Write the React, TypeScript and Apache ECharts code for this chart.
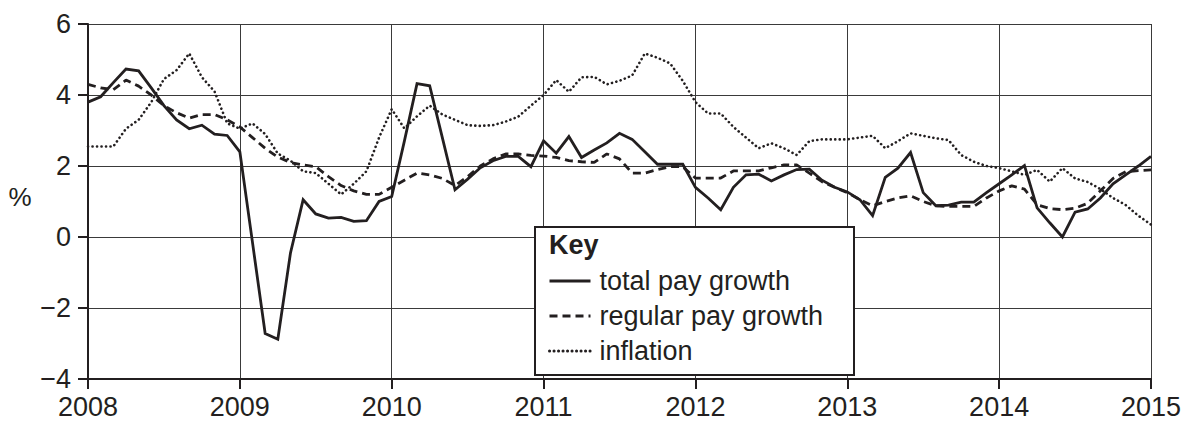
import React, { useEffect, useRef } from "react";
import * as echarts from "echarts";

const START_YEAR = 2008;
const yTicks = [-4, -2, 0, 2, 4, 6];
const xYears = [2008, 2009, 2010, 2011, 2012, 2013, 2014, 2015];

const totalPay = [
  3.8, 3.95, 4.35, 4.73, 4.68, 4.2, 3.7, 3.3, 3.05, 3.15, 2.9, 2.86,
  2.4, -0.16, -2.72, -2.88, -0.45, 1.05, 0.65, 0.53, 0.55, 0.44, 0.46, 1.0,
  1.14, 2.7, 4.32, 4.26, 2.8, 1.33, 1.63, 1.95, 2.15, 2.27, 2.27, 1.98,
  2.71, 2.36, 2.83, 2.24, 2.45, 2.65, 2.92, 2.75, 2.4, 2.05, 2.05, 2.05,
  1.4, 1.1, 0.77, 1.4, 1.75, 1.77, 1.58, 1.75, 1.9, 1.91, 1.6, 1.4,
  1.27, 1.05, 0.6, 1.68, 1.94, 2.38, 1.25, 0.88, 0.9, 0.98, 0.98, 1.25,
  1.5, 1.75, 2.01, 0.82, 0.4, 0.0, 0.7, 0.79, 1.1, 1.5, 1.75, 2.0,
  2.27,
];

const regularPay = [
  4.3, 4.2, 4.15, 4.42, 4.25, 4.0, 3.7, 3.5, 3.35, 3.45, 3.45, 3.3,
  3.1, 2.8, 2.5, 2.25, 2.1, 2.03, 1.98, 1.7, 1.45, 1.3, 1.2, 1.2,
  1.4, 1.6, 1.8, 1.75, 1.65, 1.45, 1.7, 2.0, 2.2, 2.34, 2.34, 2.3,
  2.28, 2.24, 2.15, 2.12, 2.1, 2.34, 2.2, 1.8, 1.8, 1.9, 1.98, 1.98,
  1.66, 1.66, 1.66, 1.86, 1.86, 1.86, 1.95, 2.03, 2.03, 1.8, 1.56, 1.4,
  1.25, 1.05, 0.88, 1.0, 1.1, 1.16, 1.0, 0.88, 0.86, 0.86, 0.86, 1.1,
  1.3, 1.44, 1.35, 0.91, 0.8, 0.77, 0.81, 0.95, 1.3, 1.65, 1.84, 1.87,
  1.89,
];

const inflation = [
  2.55, 2.55, 2.55, 3.05, 3.3, 3.8, 4.45, 4.7, 5.17, 4.5, 4.1, 3.2,
  3.05, 3.2, 2.9, 2.35, 2.15, 1.85, 1.8, 1.5, 1.2, 1.5, 1.85, 2.8,
  3.6, 3.06, 3.4, 3.7, 3.45, 3.3, 3.15, 3.13, 3.15, 3.25, 3.39, 3.7,
  4.0, 4.42, 4.09, 4.5, 4.51, 4.3, 4.4, 4.55, 5.17, 5.05, 4.89, 4.4,
  3.8, 3.48, 3.48, 3.1, 2.8, 2.5, 2.64, 2.5, 2.31, 2.7, 2.75, 2.75,
  2.75, 2.8, 2.85, 2.5, 2.7, 2.92, 2.85, 2.78, 2.73, 2.31, 2.12, 2.0,
  1.94, 1.85, 1.75, 1.89, 1.56, 1.94, 1.65, 1.55, 1.35, 1.1, 0.9, 0.6,
  0.35,
];

const seriesNames = ["total pay growth", "regular pay growth", "inflation"];

const toPoints = (vals: number[]) =>
  vals.map((v, i) => [START_YEAR + i / 12, v]);

const INK = "#231f20";
const FONT = "Liberation Sans, Arial, Helvetica, sans-serif";

export default function App() {
  const ref = useRef<HTMLDivElement>(null);

  useEffect(() => {
    document.body.style.margin = "0";
    if (!ref.current) return;
    const chart = echarts.init(ref.current, undefined, { renderer: "svg" });
    chart.setOption({
      animation: false,
      backgroundColor: "#ffffff",
      textStyle: { fontFamily: FONT, color: INK },
      grid: {
        left: 88,
        right: 42,
        top: 24,
        bottom: 42,
        containLabel: false,
        outerBoundsMode: "none",
      },
      xAxis: {
        type: "value",
        min: xYears[0],
        max: xYears[xYears.length - 1],
        interval: 1,
        axisLine: { show: true, onZero: false, lineStyle: { color: INK, width: 2 } },
        axisTick: { show: true, length: 10, lineStyle: { color: INK, width: 2 } },
        axisLabel: {
          fontSize: 27,
          lineHeight: 24,
          color: INK,
          fontFamily: FONT,
          margin: 16,
          formatter: (v: number) => String(v),
        },
        splitLine: { show: true, lineStyle: { color: "#3a3a3a", width: 1 } },
      },
      yAxis: {
        type: "value",
        min: yTicks[0],
        max: yTicks[yTicks.length - 1],
        interval: 2,
        axisLine: { show: true, onZero: false, lineStyle: { color: INK, width: 2 } },
        axisTick: { show: true, length: 10, lineStyle: { color: INK, width: 2 } },
        axisLabel: {
          fontSize: 27,
          color: INK,
          fontFamily: FONT,
          margin: 17,
          formatter: (v: number) => String(v).replace("-", "\u2212"),
        },
        splitLine: { show: true, lineStyle: { color: "#3a3a3a", width: 1 } },
      },
      legend: {
        data: seriesNames,
        orient: "vertical",
        left: 548,
        top: 266,
        padding: 0,
        itemWidth: 41,
        itemHeight: 14,
        itemGap: 5,
        z: 20,
        itemStyle: { opacity: 0 },
        lineStyle: { width: 3 },
        textStyle: {
          fontSize: 27,
          color: INK,
          fontFamily: FONT,
          lineHeight: 30,
          padding: [0, 0, 0, 4],
        },
      },
      graphic: [
        {
          type: "rect",
          z: 10,
          shape: { x: 535, y: 227, width: 319, height: 148 },
          style: { fill: "#ffffff", stroke: INK, lineWidth: 2 },
        },
        {
          type: "text",
          z: 20,
          style: {
            x: 549,
            y: 245,
            text: "Key",
            fontSize: 27,
            fontWeight: "bold",
            fontFamily: FONT,
            fill: INK,
            verticalAlign: "middle",
          },
        },
        {
          type: "text",
          z: 20,
          style: {
            x: 20,
            y: 197,
            text: "%",
            fontSize: 26,
            fontFamily: FONT,
            fill: INK,
            align: "center",
            verticalAlign: "middle",
          },
        },
      ],
      series: [
        {
          name: seriesNames[0],
          type: "line",
          data: toPoints(totalPay),
          symbol: "none",
          z: 3,
          lineStyle: { color: INK, width: 2.8, type: "solid", join: "miter" },
          itemStyle: { color: INK },
        },
        {
          name: seriesNames[1],
          type: "line",
          data: toPoints(regularPay),
          symbol: "none",
          z: 2,
          lineStyle: { color: INK, width: 2.8, type: [8, 5] },
          itemStyle: { color: INK },
        },
        {
          name: seriesNames[2],
          type: "line",
          data: toPoints(inflation),
          symbol: "none",
          z: 1,
          lineStyle: { color: INK, width: 2.6, type: [0.1, 4.4], cap: "round" },
          itemStyle: { color: INK },
        },
      ],
    });
    return () => chart.dispose();
  }, []);

  return <div ref={ref} style={{ width: 1193, height: 421 }} />;
}
